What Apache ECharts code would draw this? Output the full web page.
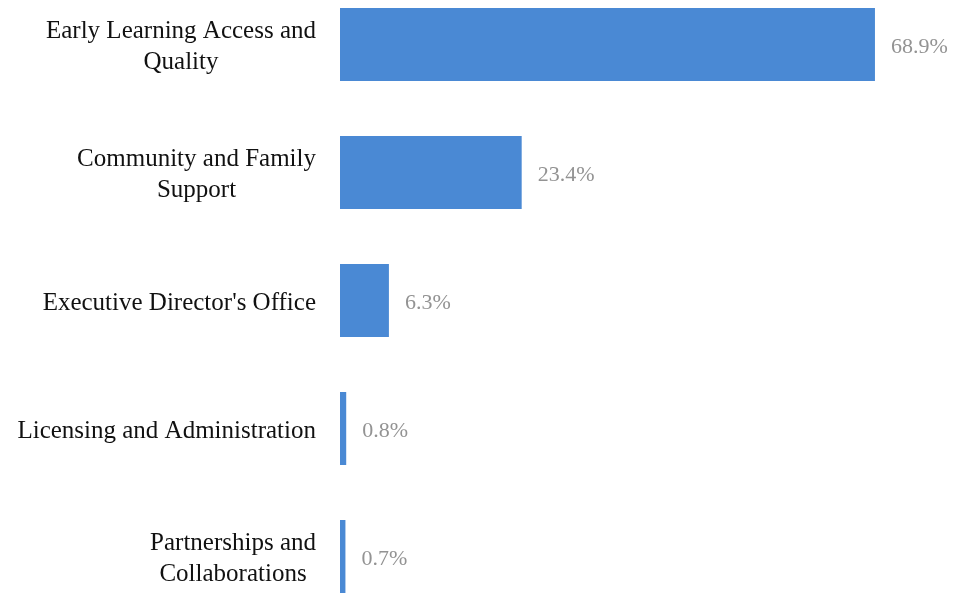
<!DOCTYPE html>
<html>
<head>
<meta charset="utf-8">
<script src="https://cdn.jsdelivr.net/npm/echarts@6/dist/echarts.min.js"></script>
<style>
  html, body { margin: 0; padding: 0; background: #ffffff; }
  #chart { width: 953px; height: 593px; }
</style>
</head>
<body>
<div id="chart"></div>
<script>
// Share of budget by division (percent)
const categories = [
  'Early Learning Access and\nQuality',
  'Community and Family\nSupport',
  "Executive Director's Office",
  'Licensing and Administration',
  'Partnerships and\nCollaborations'
];
const values = [68.9, 23.4, 6.3, 0.8, 0.7];

const serif = '"Liberation Serif", "DejaVu Serif", serif';

const chart = echarts.init(document.getElementById('chart'), null, { renderer: 'canvas' });

chart.setOption({
  animation: false,
  backgroundColor: '#ffffff',
  grid: {
    left: 340, width: 543.5, top: -19.5, height: 640,
    containLabel: false, outerBoundsMode: 'none'
  },
  xAxis: {
    type: 'value', min: 0, max: 70, show: false
  },
  yAxis: {
    type: 'category',
    inverse: true,
    data: categories,
    axisLine: { show: false },
    axisTick: { show: false },
    splitLine: { show: false },
    axisLabel: {
      margin: 24,
      align: 'right',
      padding: [5, 0, 0, 0],
      formatter: function (v) {
        return v.split('\n').map(function (s) { return '{c|' + s + '}'; }).join('\n');
      },
      rich: {
        c: {
          align: 'center',
          fontFamily: serif,
          fontSize: 25,
          lineHeight: 31,
          color: '#111111'
        }
      }
    }
  },
  series: [{
    type: 'bar',
    data: values,
    barCategoryGap: '43%',
    itemStyle: { color: '#4a89d4' },
    label: {
      show: true,
      position: 'right',
      distance: 16,
      offset: [0, 3],
      formatter: function (p) { return p.value.toFixed(1) + '%'; },
      fontFamily: serif,
      fontSize: 22,
      color: '#939393'
    }
  }]
});
</script>
</body>
</html>
